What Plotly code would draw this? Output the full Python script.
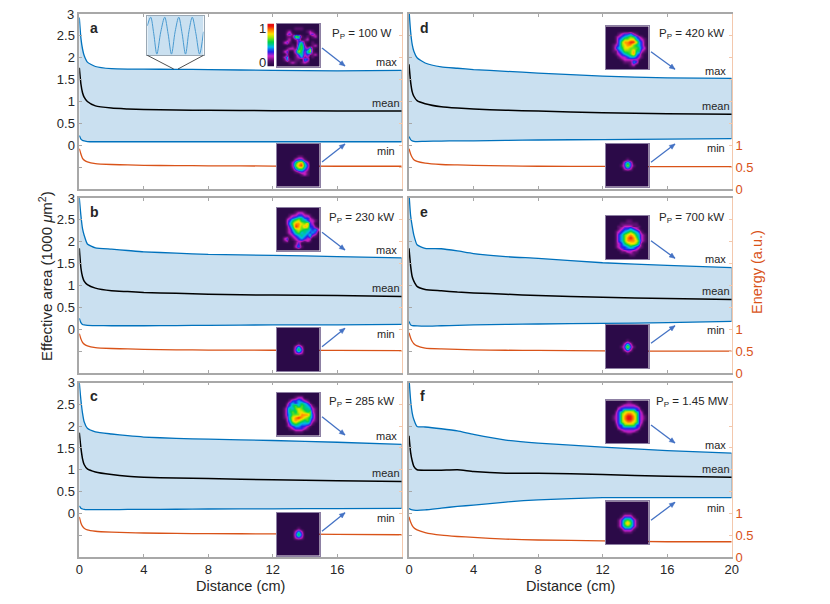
import math
import plotly.graph_objects as go

W, H = 830, 604
PAGE_MARGIN = 8  # the browser's default body margin around the plot
X_CM = [0, 0.1, 0.2, 0.3, 0.5, 1, 2, 3, 4, 6, 8, 12, 16, 20]

A_MAX = [2.92, 2.45, 2.2, 2.05, 1.9, 1.8, 1.75, 1.74, 1.74, 1.735, 1.73, 1.71, 1.70, 1.71]
A_MEAN = [1.77, 1.4, 1.2, 1.1, 1.0, 0.9, 0.85, 0.83, 0.815, 0.805, 0.8, 0.79, 0.785, 0.78]
A_MIN = [0.22, 0.14, 0.11, 0.1, 0.085, 0.08, 0.08, 0.08, 0.08, 0.08, 0.08, 0.08, 0.08, 0.08]
A_EN = [0.92, 0.8, 0.7, 0.66, 0.62, 0.58, 0.56, 0.55, 0.54, 0.535, 0.53, 0.525, 0.52, 0.52]

B_MAX = [3.0, 2.6, 2.3, 2.15, 1.95, 1.86, 1.83, 1.8, 1.77, 1.74, 1.71, 1.69, 1.66, 1.63]
B_MEAN = [1.85, 1.4, 1.2, 1.1, 1.02, 0.94, 0.88, 0.86, 0.84, 0.82, 0.8, 0.78, 0.77, 0.75]
B_MIN = [0.25, 0.15, 0.11, 0.1, 0.09, 0.085, 0.08, 0.08, 0.08, 0.085, 0.09, 0.1, 0.1, 0.11]
B_EN = [0.9, 0.78, 0.7, 0.66, 0.62, 0.58, 0.56, 0.55, 0.54, 0.53, 0.525, 0.52, 0.515, 0.51]

C_MAX = [3.0, 2.6, 2.3, 2.1, 1.95, 1.87, 1.82, 1.78, 1.75, 1.72, 1.7, 1.67, 1.63, 1.58]
C_MEAN = [1.85, 1.5, 1.25, 1.12, 1.02, 0.95, 0.89, 0.85, 0.83, 0.81, 0.8, 0.77, 0.75, 0.73]
C_MIN = [0.17, 0.12, 0.1, 0.09, 0.085, 0.085, 0.085, 0.09, 0.09, 0.095, 0.1, 0.105, 0.11, 0.115]
C_EN = [0.92, 0.78, 0.7, 0.66, 0.62, 0.59, 0.57, 0.56, 0.55, 0.54, 0.535, 0.53, 0.52, 0.51]

D_MAX = [3.1, 2.6, 2.3, 2.15, 2.0, 1.88, 1.79, 1.76, 1.73, 1.69, 1.65, 1.58, 1.54, 1.53]
D_MEAN = [1.85, 1.45, 1.22, 1.12, 1.02, 0.95, 0.88, 0.85, 0.83, 0.8, 0.78, 0.74, 0.72, 0.71]
D_MIN = [0.2, 0.13, 0.1, 0.09, 0.085, 0.09, 0.095, 0.1, 0.1, 0.11, 0.12, 0.13, 0.14, 0.15]
D_EN = [0.92, 0.8, 0.72, 0.67, 0.63, 0.59, 0.56, 0.55, 0.54, 0.53, 0.52, 0.515, 0.51, 0.51]

E_MAX = [3.1, 2.6, 2.35, 2.15, 1.93, 1.85, 1.84, 1.79, 1.73, 1.66, 1.62, 1.52, 1.46, 1.41]
E_MEAN = [1.85, 1.45, 1.2, 1.1, 0.98, 0.91, 0.88, 0.85, 0.83, 0.8, 0.77, 0.73, 0.7, 0.68]
E_MIN = [0.18, 0.1, 0.085, 0.08, 0.075, 0.07, 0.08, 0.09, 0.1, 0.11, 0.12, 0.135, 0.15, 0.18]
E_EN = [0.92, 0.8, 0.72, 0.67, 0.62, 0.57, 0.55, 0.54, 0.53, 0.52, 0.515, 0.505, 0.5, 0.5]

F_MAX = [3.1, 2.6, 2.3, 2.15, 1.99, 1.98, 1.94, 1.89, 1.81, 1.68, 1.61, 1.52, 1.44, 1.38]
F_MEAN = [1.78, 1.4, 1.2, 1.08, 1.0, 0.99, 0.99, 1.0, 0.96, 0.92, 0.92, 0.89, 0.85, 0.83]
F_MIN = [0.11, 0.09, 0.08, 0.075, 0.07, 0.08, 0.12, 0.16, 0.19, 0.26, 0.31, 0.36, 0.36, 0.36]
F_EN = [0.92, 0.8, 0.72, 0.67, 0.62, 0.56, 0.5, 0.47, 0.45, 0.41, 0.39, 0.37, 0.35, 0.35]

POWER_LABELS = ["100 W", "230 kW", "285 kW", "420 kW", "700 kW", "1.45 MW"]
LETTERS = ["a", "b", "c", "d", "e", "f"]
LEFT_TICKS = [0, 0.5, 1, 1.5, 2, 2.5, 3]
LEFT_MINOR = [-0.5]
RIGHT_TICKS = [0, 0.5, 1]
RIGHT_MINOR = [1.5, 2, 2.5, 3, 3.5]
X_TICKS_LEFT = [0, 4, 8, 12, 16]
X_TICKS_RIGHT = [0, 4, 8, 12, 16, 20]

INSET_X = [0, 0.06, 0.115, 0.17, 0.24, 0.31, 0.37, 0.43, 0.495, 0.56, 0.62, 0.68, 0.74, 0.80, 0.865, 0.93, 1]
INSET_Y = [0.75, 0.97, 0.55, 0.03, 0.6, 0.97, 0.55, 0.03, 0.6, 0.97, 0.55, 0.03, 0.6, 0.97, 0.55, 0.03, 0.6]
COLORBAR_LEVELS = [1, 0.9, 0.8, 0.7, 0.6, 0.5, 0.4, 0.3, 0.2, 0.1, 0]

# beam images: one digit per cell, 0 to 9 = relative intensity
A_TOP = ["000000000000000", "000000111000000", "000120000012100", "000231000002310",
         "000111761010120", "000120130120000", "002310035100100", "000001046200120",
         "000122156326100", "002300375257100", "000200135231120", "002400124120100",
         "001410110430000", "000012101210000", "000000000000000"]
A_BOT = ["000000000000000", "000000000000000", "000000000000000", "000000000000000",
         "000000011000000", "000000233100000", "000002578420000", "000002689530000",
         "000001466420000", "000000123210000", "000000001210000", "000000000000000",
         "000000000000000", "000000000000000", "000000000000000"]
B_TOP = ["000000000000000", "000000122100000", "000012233221000", "000123455332100",
         "000235675532210", "000246887683200", "000135986873310", "000124676554342",
         "000123564543430", "000012345435210", "002301234322000", "001200122121000",
         "000000130000000", "000000241000000", "000000000000000"]
B_BOT = ["000000000000000", "000000000000000", "000000000000000", "000000000000000",
         "000000000000000", "000000010000000", "000000242000000", "000000363000000",
         "000000232000000", "000000000000000", "000000000000000", "000000000000000",
         "000000000000000", "000000000000000", "000000000000000"]
C_TOP = ["000000000000000", "000000122000000", "000013343210000", "000134345431000",
         "000235646543100", "001354676554210", "001356577656210", "001346668886310",
         "001257898765310", "000247876564210", "000135654443100", "000123443321000",
         "000012333210000", "000000111000000", "000000000000000"]
C_BOT = B_BOT
D_TOP = ["000000000000000", "000000000000000", "000012334210000", "000123456532100",
         "000134667743210", "000136889974310", "001236788654310", "001345776665320",
         "001134666855210", "000123456843100", "000012234432100", "000001222221000",
         "000000111430000", "000000001200000", "000000000000000"]
D_BOT = ["000000000000000", "000000000000000", "000000000000000", "000000000000000",
         "000000000000000", "000000010000000", "000000353000000", "000001373100000",
         "000000232000000", "000000000000000", "000000000000000", "000000000000000",
         "000000000000000", "000000000000000", "000000000000000"]
E_TOP = ["000000000000000", "000000011000000", "000001111110000", "000011222111000",
         "000012334321000", "000123456543100", "000134678754210", "000134689864210",
         "000134688875210", "000123567764100", "000123345432100", "000012333321000",
         "000001122110000", "000000001100000", "000000000000000"]
E_BOT = ["000000000000000", "000000000000000", "000000000000000", "000000000000000",
         "000000000000000", "000000010000000", "000000242000000", "000001373100000",
         "000000242000000", "000000010000000", "000000000000000", "000000000000000",
         "000000000000000", "000000000000000", "000000000000000"]
F_TOP = ["000000011000000", "000001222210000", "000023333332000", "000133666633100",
         "000236788763200", "001236899863210", "001236899863210", "000236788763200",
         "000133666633100", "000023333332000", "000001222210000", "000000011000000",
         "000000000000000", "000000000000000", "000000000000000"]
F_BOT = ["000000000000000", "000000000000000", "000000000000000", "000000000000000",
         "000000111000000", "000001333100000", "000013565310000", "000013686310000",
         "000013565310000", "000001333100000", "000000111000000", "000000000000000",
         "000000000000000", "000000000000000", "000000000000000"]

SERIES = [(A_MAX, A_MEAN, A_MIN, A_EN), (B_MAX, B_MEAN, B_MIN, B_EN), (C_MAX, C_MEAN, C_MIN, C_EN),
          (D_MAX, D_MEAN, D_MIN, D_EN), (E_MAX, E_MEAN, E_MIN, E_EN), (F_MAX, F_MEAN, F_MIN, F_EN)]
BEAMS = [(A_TOP, A_BOT), (B_TOP, B_BOT), (C_TOP, C_BOT), (D_TOP, D_BOT), (E_TOP, E_BOT), (F_TOP, F_BOT)]

# layout, in page pixels
PANELS = [(79.3, 401.7, 14, 189), (79.3, 401.7, 198, 373), (79.3, 401.7, 382.5, 557),
          (409, 731.7, 14, 189), (409, 731.7, 198, 373), (409, 731.7, 382.5, 557)]
IMG_TOP = [(276.7, 23.7), (276.7, 207.7), (276.7, 392.7), (605.7, 26.3), (605.7, 216), (605.7, 400.3)]
IMG_BOT = [(276.7, 143.7), (276.7, 328), (276.7, 512.7), (605.7, 143.7), (605.7, 325), (605.7, 501.3)]
ARROW_UP_Y = [(162, 144), (346.7, 328.3), (531.3, 512.7), (162.3, 144), (343.3, 325.7), (520.3, 502.3)]
ARROW_DN_Y = [(48, 66), (232.3, 250), (416.7, 435), (51.7, 69.3), (240.7, 258.3), (425, 443)]
ARROW_X = [(322, 345)] * 3 + [(651, 675)] * 3
LETTER_POS = [(94, 28), (94, 211.7), (94, 396), (424, 28), (424, 212), (422, 395.7)]
POWER_POS = [(361.7, 34), (361.7, 218), (361.7, 402), (691.7, 34), (691.7, 218), (691.7, 402)]
MAX_POS = [(386, 62), (386, 249.7), (386, 435.7), (715.7, 70.7), (715.7, 259), (715.7, 445)]
MEAN_POS = [(386, 103), (386, 288), (386, 473), (715.7, 106), (715.7, 291), (715.7, 469)]
MIN_POS = [(386, 151), (386, 333.7), (386, 517.7), (715.7, 148), (715.7, 330), (715.7, 507.7)]

BLUE, ORANGE, FILL = "#0072bd", "#d95319", "#cae0f0"
GRAY, PALE, TXT = "#a8a8a8", "#f3c8ad", "#262626"
ARROW = "#4472c4"
FONT = "Liberation Sans"
BEAM_SCALE = [[0, "#2b0a48"], [0.11, "#5c1070"], [0.22, "#d020c8"], [0.33, "#2020e8"], [0.45, "#00b8f0"],
              [0.6, "#00d048"], [0.72, "#a8e800"], [0.8, "#ffe000"], [0.9, "#ff8000"], [1, "#e81010"]]

PW, PH = W - 2 * PAGE_MARGIN, H - 2 * PAGE_MARGIN


def fx(x):
    return (x - PAGE_MARGIN) / PW


def fy(y):
    return 1 - (y - PAGE_MARGIN) / PH


def parse(rows):
    return [[int(c) / 9 for c in r.ljust(15, "0")] for r in rows]


fig = go.Figure()
lay = dict(width=PW, height=PH, margin=dict(l=0, r=0, t=0, b=0, autoexpand=False), paper_bgcolor="white",
           plot_bgcolor="rgba(0,0,0,0)", showlegend=False, font=dict(family=FONT, color=TXT),
           annotations=[], shapes=[])

for i, (series, p) in enumerate(zip(SERIES, PANELS)):
    mx, mean, mn, en = series
    xid, yid, y2id = f"x{i+1}", f"y{i+1}", f"y{i+7}"
    xn, yn, y2n = f"xaxis{i+1}", f"yaxis{i+1}", f"yaxis{i+7}"
    left_col, bottom = i < 3, i in (2, 5)
    lay[xn] = dict(domain=[fx(p[0]), fx(p[1])], range=[0, 20], anchor=yid,
                   tickmode="array", tickvals=X_TICKS_RIGHT if i >= 3 else X_TICKS_LEFT, showgrid=False,
                   zeroline=False, showticklabels=bottom, ticks="inside", ticklen=3, tickcolor=GRAY, mirror="ticks",
                   showline=True, linecolor=GRAY, linewidth=1.5, tickfont=dict(size=13, color=TXT))
    lay[yn] = dict(domain=[fy(p[3]), fy(p[2])], range=[-1, 3], anchor=xid, tickmode="array", tickvals=LEFT_TICKS,
                   minor=dict(tickmode="array", tickvals=LEFT_MINOR, ticks="inside", ticklen=3, tickcolor=GRAY),
                   showticklabels=left_col, showgrid=False, zeroline=False, ticks="inside", ticklen=3, tickcolor=GRAY,
                   showline=True, linecolor=GRAY, linewidth=1.5, tickfont=dict(size=13, color=TXT))
    lay[y2n] = dict(domain=[fy(p[3]), fy(p[2])], range=[0, 4], anchor=xid, overlaying=yid, side="right",
                    tickmode="array", tickvals=RIGHT_TICKS,
                    minor=dict(tickmode="array", tickvals=RIGHT_MINOR, ticks="inside", ticklen=3, tickcolor=PALE),
                    showticklabels=not left_col, showgrid=False, zeroline=False, ticks="inside", ticklen=3,
                    tickcolor=PALE, showline=True, linecolor=PALE, linewidth=1.2,
                    tickfont=dict(size=13, color=ORANGE))
    common = dict(x=X_CM, mode="lines", hoverinfo="skip", xaxis=xid, yaxis=yid)
    fig.add_trace(go.Scatter(y=mn, line=dict(color=BLUE, width=1.3, shape="spline", smoothing=0.5), **common))
    fig.add_trace(go.Scatter(y=mx, line=dict(color=BLUE, width=1.3, shape="spline", smoothing=0.5),
                             fill="tonexty", fillcolor=FILL, **common))
    fig.add_trace(go.Scatter(x=[X_CM[-1], X_CM[-1]], y=[mx[-1], mn[-1]], mode="lines", hoverinfo="skip",
                             line=dict(color="#5f7f95", width=0.8), xaxis=xid, yaxis=yid))
    fig.add_trace(go.Scatter(y=mean, line=dict(color="black", width=1.5, shape="spline", smoothing=0.5), **common))
    fig.add_trace(go.Scatter(x=X_CM, y=en, mode="lines", hoverinfo="skip", xaxis=xid, yaxis=y2id,
                             line=dict(color=ORANGE, width=1.3, shape="spline", smoothing=0.5)))

# beam images and small insets live on their own axes, drawn after the panels
ax_n = 7
IMG_SIZE = 43


def add_image_axes(x0, x1, y0, y1):
    global ax_n
    n = ax_n
    ax_n += 1
    xn, yn = f"xaxis{n}", f"yaxis{n + 6}"
    base = dict(showgrid=False, zeroline=False, showticklabels=False, ticks="", showline=True, mirror=True,
                linecolor="#8d80a3", linewidth=1)
    lay[xn] = dict(domain=[fx(x0), fx(x1)], anchor=f"y{n + 6}", **base)
    lay[yn] = dict(domain=[fy(y1), fy(y0)], anchor=f"x{n}", **base)
    return f"x{n}", f"y{n + 6}", xn, yn


for i in range(6):
    for rows, pos in ((BEAMS[i][0], IMG_TOP[i]), (BEAMS[i][1], IMG_BOT[i])):
        xid, yid, xn, yn = add_image_axes(pos[0], pos[0] + IMG_SIZE, pos[1], pos[1] + IMG_SIZE)
        lay[xn]["range"] = [-0.5, 14.5]
        lay[yn]["range"] = [14.5, -0.5]
        fig.add_trace(go.Heatmap(z=parse(rows), zmin=0, zmax=1, colorscale=BEAM_SCALE, showscale=False,
                                 zsmooth="best", hoverinfo="skip", xaxis=xid, yaxis=yid))

# colour bar of panel a
xid, yid, xn, yn = add_image_axes(267.3, 274, 23.5, 66.5)
lay[xn].update(range=[-0.5, 0.5], showline=False)
lay[yn].update(range=[10.5, -0.5], showline=False)
fig.add_trace(go.Heatmap(z=[[v] for v in COLORBAR_LEVELS], zmin=0, zmax=1, colorscale=BEAM_SCALE, showscale=False,
                         zsmooth="best", hoverinfo="skip", xaxis=xid, yaxis=yid))

# zoomed oscillation inset of panel a
xid, yid, xn, yn = add_image_axes(147.3, 203.5, 16, 55.3)
lay[xn].update(range=[0, 1], linecolor="#9aa8b4")
lay[yn].update(range=[0, 1], linecolor="#9aa8b4")
fig.add_trace(go.Scatter(x=[0, 1], y=[1, 1], mode="lines", line=dict(width=0), fill="tozeroy", fillcolor=FILL,
                         hoverinfo="skip", xaxis=xid, yaxis=yid))
fig.add_trace(go.Scatter(x=INSET_X, y=INSET_Y, mode="lines", hoverinfo="skip", xaxis=xid, yaxis=yid,
                         line=dict(color="#4a9ad0", width=1, shape="spline", smoothing=0.9)))
for a, b in (((147.3, 55.3), (173.7, 69)), ((203.5, 55.3), (178, 69))):
    lay["shapes"].append(dict(type="line", xref="paper", yref="paper", x0=fx(a[0]), y0=fy(a[1]), x1=fx(b[0]), y1=fy(b[1]),
                              line=dict(color="#222222", width=0.8)))


def note(text, pos, size, color=TXT, **kw):
    lay["annotations"].append(dict(text=text, xref="paper", yref="paper", x=fx(pos[0]), y=fy(pos[1]), showarrow=False,
                                   xanchor="center", yanchor="middle", font=dict(size=size, color=color), **kw))


def arrow(x0, y0, x1, y1):
    lay["shapes"].append(dict(type="line", xref="paper", yref="paper", x0=fx(x0), y0=fy(y0), x1=fx(x1), y1=fy(y1),
                              line=dict(color=ARROW, width=1.3)))
    a = math.atan2(y1 - y0, x1 - x0)
    back, half = 5.5, 2.4
    bx, by = x1 - back * math.cos(a), y1 - back * math.sin(a)
    nx, ny = -math.sin(a) * half, math.cos(a) * half
    pts = [(x1, y1), (bx + nx, by + ny), (bx - nx, by - ny)]
    path = "M" + " L".join(f"{fx(u):.5f},{fy(v):.5f}" for u, v in pts) + " Z"
    lay["shapes"].append(dict(type="path", xref="paper", yref="paper", path=path, fillcolor=ARROW,
                              line=dict(color=ARROW, width=0.5)))


for i in range(6):
    note(f"<b>{LETTERS[i]}</b>", LETTER_POS[i], 14)
    note(f"P<sub>P</sub> = {POWER_LABELS[i]}", POWER_POS[i], 11.5)
    note("max", MAX_POS[i], 11)
    note("mean", MEAN_POS[i], 11)
    note("min", MIN_POS[i], 11)
    for ys in (ARROW_UP_Y[i], ARROW_DN_Y[i]):
        arrow(ARROW_X[i][0], ys[0], ARROW_X[i][1], ys[1])

note("1", (262, 28), 13)
note("0", (262, 62.7), 13)
note("3", (70, 14.5), 13)  # the top tick label of panel a sits at the very edge of the plot area
note("Effective area (1000 <i>μ</i>m<sup>2</sup>)", (45, 276), 15, textangle=-90)
note("Energy (a.u.)", (757, 272), 14.5, color=ORANGE, textangle=-90)
note("Distance (cm)", (240, 586), 14.5)
note("Distance (cm)", (570, 586), 14.5)

fig.update_layout(**lay)
fig.write_html("out.html")
